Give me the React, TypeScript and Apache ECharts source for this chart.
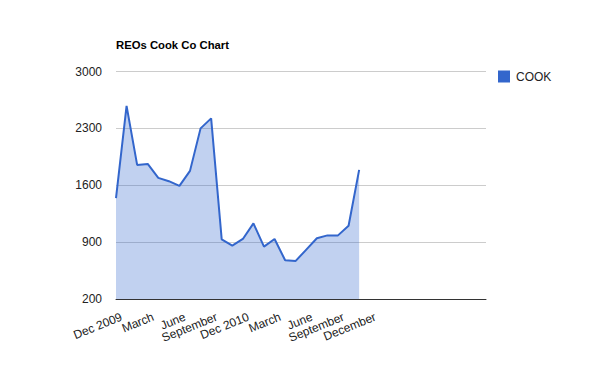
import React, { useEffect, useRef } from "react";
import * as echarts from "echarts";

const title = "REOs Cook Co Chart";
const seriesName = "COOK";
// monthly values, Dec 2009 .. Nov 2011
const values: number[] = [
  1442, 2577, 1850, 1862, 1691, 1650, 1593, 1777, 2300, 2423, 934, 857,
  939, 1130, 845, 939, 677, 669, 808, 947, 983, 983, 1102, 1789,
];
// 36 monthly slots on the axis (Dec 2009 .. Nov 2012)
const categories: string[] = Array.from({ length: 36 }, (_, i) => `m${i}`);
// tick labels every third month
const tickLabels: string[] = [
  "Dec 2009", "March", "June", "September", "Dec 2010", "March", "June", "September", "December",
];
const yMin = 200;
const yMax = 3000;
const yStep = 700;

export default function App() {
  const ref = useRef<HTMLDivElement>(null);
  useEffect(() => {
    if (!ref.current) return;
    const chart = echarts.init(ref.current, null, { renderer: "svg" });
    const font = "Arial, 'Liberation Sans', sans-serif";
    chart.setOption({
      animation: false,
      textStyle: { fontFamily: font },
      title: {
        text: title,
        left: 116,
        top: 39,
        padding: 0,
        textStyle: { fontSize: 11.3, fontWeight: "bold", color: "#000", fontFamily: font },
      },
      legend: {
        left: 498,
        top: 70.5,
        padding: 0,
        itemWidth: 12,
        itemHeight: 12,
        itemGap: 6,
        icon: "rect",
        textStyle: { fontSize: 12, color: "#222", fontFamily: font, padding: [0, 0, 0, 1] },
        data: [seriesName],
      },
      grid: { left: 116, right: 114, top: 71.5, bottom: 72, containLabel: false },
      xAxis: {
        type: "category",
        data: categories,
        boundaryGap: false,
        axisLine: { lineStyle: { color: "#333", width: 1 } },
        axisTick: { show: false },
        splitLine: { show: false },
        axisLabel: {
          rotate: 22,
          fontSize: 12,
          color: "#222",
          fontFamily: font,
          margin: 19.5,
          padding: [0, -6, 0, 0],
          hideOverlap: false,
          showMinLabel: true,
          showMaxLabel: true,
          interval: 0,
          formatter: (_v: string, i: number) =>
            i % 3 === 0 && i / 3 < tickLabels.length ? tickLabels[i / 3] : "",
        },
      },
      yAxis: {
        type: "value",
        min: 0,
        max: yMax - yMin,
        interval: yStep,
        axisLine: { show: false },
        axisTick: { show: false },
        splitLine: { lineStyle: { color: "#ccc", width: 1 } },
        axisLabel: {
          fontSize: 12,
          color: "#222",
          fontFamily: font,
          margin: 14,
          formatter: (v: number) => String(v + yMin),
        },
      },
      series: [
        {
          name: seriesName,
          type: "line",
          data: values.map((v) => v - yMin),
          symbol: "none",
          lineStyle: { color: "#3366cc", width: 2 },
          itemStyle: { color: "#3366cc" },
          areaStyle: { color: "#3366cc", opacity: 0.3 },
          z: 1,
        },
      ],
    });
    return () => chart.dispose();
  }, []);
  return (
    <div
      ref={ref}
      style={{ position: "absolute", left: 0, top: 0, width: 600, height: 371, background: "#fff" }}
    />
  );
}
